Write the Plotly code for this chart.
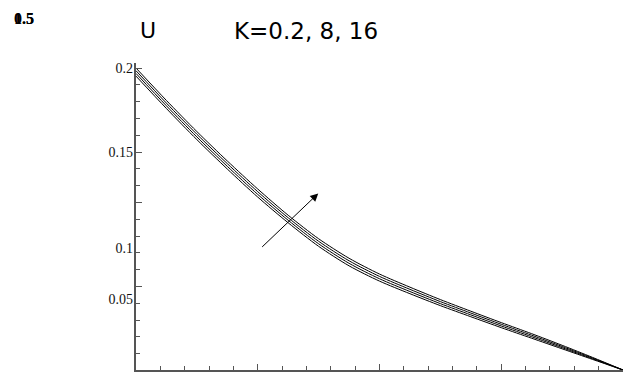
import plotly.graph_objects as go

# ---- data ----
x_vals = [0, 0.25, 0.5, 0.75, 1.0, 1.25, 1.5, 1.75, 2.0, 2.25, 2.5, 2.75, 3.0, 3.25, 3.5, 3.75, 4.0]
u_k1 = [0.1952, 0.1759, 0.1574, 0.1399, 0.1232, 0.1079, 0.0939, 0.0823, 0.0732, 0.0657, 0.0586, 0.0520, 0.0455, 0.0392, 0.0329, 0.0266, 0.0203]
u_k2 = [0.1968, 0.1775, 0.1590, 0.1415, 0.1248, 0.1094, 0.0954, 0.0838, 0.0746, 0.0670, 0.0598, 0.0531, 0.0465, 0.0401, 0.0336, 0.0270, 0.0203]
u_k3 = [0.1984, 0.1791, 0.1606, 0.1431, 0.1264, 0.1109, 0.0969, 0.0853, 0.0760, 0.0683, 0.0610, 0.0542, 0.0475, 0.0410, 0.0343, 0.0274, 0.0203]
u_k4 = [0.2000, 0.1807, 0.1622, 0.1447, 0.1280, 0.1124, 0.0984, 0.0868, 0.0774, 0.0696, 0.0622, 0.0553, 0.0485, 0.0419, 0.0350, 0.0278, 0.0203]
series = [u_k1, u_k2, u_k3, u_k4]

y_major_ticks = [0.2, 0.15, 0.12, 0.07]
y_label_pos = [0.2, 0.15, 0.0929, 0.0625]
y_label_text = ["0.2", "0.15", "0.1", "0.05"]
x_major_ticks = [0, 1, 2, 3, 4]

y_range = [0.0203, 0.2030]
x_range = [0, 4]

W, H = 625, 372
ML, MR, MT, MB = 136, 2, 63, 2
PW, PH = W - ML - MR, H - MT - MB


def px(xp):
    return (xp - ML) / PW


def py(yp):
    return (H - MB - yp) / PH


fig = go.Figure()
for s in series:
    fig.add_trace(go.Scatter(x=x_vals, y=s, mode="lines", line_shape="spline",
                             line=dict(color="black", width=1, smoothing=0.8),
                             showlegend=False, hoverinfo="skip"))
# invisible trace to carry the label axis
fig.add_trace(go.Scatter(x=[None], y=[None], yaxis="y2", showlegend=False))

axis_col = "#555555"
fig.update_layout(
    width=W, height=H,
    margin=dict(l=ML, r=MR, t=MT, b=MB),
    paper_bgcolor="white", plot_bgcolor="white",
    xaxis=dict(range=x_range, showgrid=False, zeroline=False, automargin=False,
               showline=True, linecolor=axis_col, linewidth=1.5,
               ticks="inside", tickvals=x_major_ticks, ticklen=6, tickcolor=axis_col,
               showticklabels=False,
               minor=dict(dtick=0.2, tick0=0, ticks="inside", ticklen=4, tickcolor=axis_col,
                          showgrid=False)),
    yaxis=dict(range=y_range, showgrid=False, zeroline=False, automargin=False,
               showline=True, linecolor=axis_col, linewidth=1.5,
               ticks="inside", tickvals=y_major_ticks, ticklen=6, tickcolor=axis_col,
               showticklabels=False,
               minor=dict(dtick=0.01, tick0=0, ticks="inside", ticklen=4, tickcolor=axis_col,
                          showgrid=False)),
    yaxis2=dict(range=y_range, overlaying="y", side="left", showgrid=False, zeroline=False,
                automargin=False, showline=False, ticks="", tickvals=y_label_pos,
                ticktext=y_label_text,
                tickfont=dict(family="Liberation Serif", size=14, color="#111111"),
                ticklabelstandoff=2),
)

# arrow
fig.add_annotation(x=1.497, y=0.1254, ax=1.024, ay=0.0927, xref="x", yref="y",
                   axref="x", ayref="y", showarrow=True, arrowhead=2, arrowsize=1.6,
                   arrowwidth=1, arrowcolor="black", text="")

# titles
fig.add_annotation(x=px(148), y=py(31), xref="paper", yref="paper", text="U", showarrow=False,
                   xanchor="center", yanchor="middle",
                   font=dict(family="DejaVu Sans", size=22, color="black"))
fig.add_annotation(x=px(306), y=py(31), xref="paper", yref="paper", text="K=0.2, 8, 16",
                   showarrow=False, xanchor="center", yanchor="middle",
                   font=dict(family="DejaVu Sans", size=23, color="black"))
# overlapping label at the top-left corner
for t in ["0.5", "1.5"]:
    fig.add_annotation(x=px(24), y=py(19), xref="paper", yref="paper", text="<b>" + t + "</b>",
                       showarrow=False, xanchor="center", yanchor="middle",
                       font=dict(family="Liberation Serif", size=16, color="black"))

fig.write_html("out.html", config={"displayModeBar": False},
               post_script="document.body.style.margin='0';document.body.style.padding='0';")
